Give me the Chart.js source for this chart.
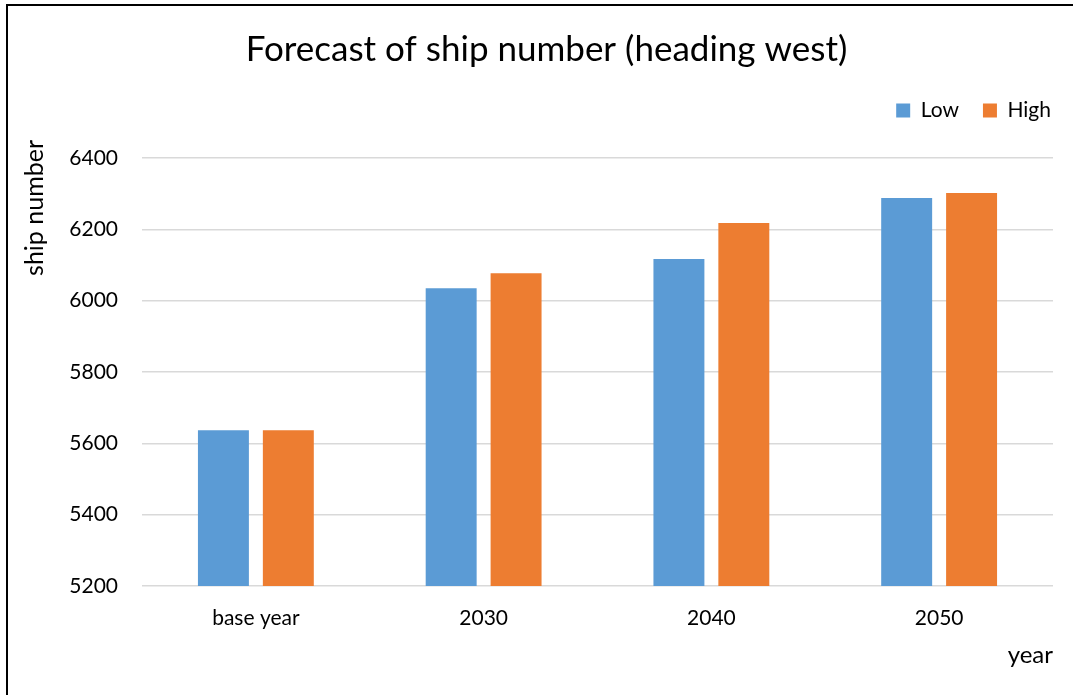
<!DOCTYPE html>
<html>
<head>
<meta charset="utf-8">
<title>Forecast of ship number</title>
<script src="https://cdn.jsdelivr.net/npm/chart.js@4"></script>
<style>
  html, body { margin: 0; padding: 0; background: #fff; }
  #wrap { position: relative; width: 1073px; height: 695px; overflow: hidden; }
  #frame {
    position: absolute; left: 6px; top: 4px; right: -10px; bottom: -10px;
    border-top: 2px solid #000; border-left: 2px solid #000;
    pointer-events: none;
  }
</style>
</head>
<body>
<div id="wrap">
  <canvas id="shipchart" width="1073" height="695"></canvas>
  <div id="frame"></div>
</div>
<script>
// Ship number forecast, westbound
const years = ['base year', '2030', '2040', '2050'];
const lowCase = [5637, 6035, 6117, 6288];
const highCase = [5637, 6077, 6218, 6302];
const yTicks = [5200, 5400, 5600, 5800, 6000, 6200, 6400];
const yTitle = 'ship number';

const FONT = 'Lato, Carlito, "Open Sans", sans-serif';

// legend: more room underneath, pushed to the right edge of the plot;
// title nudged right a little
const headerTweak = {
  id: 'headerTweak',
  beforeInit(chart) {
    const fit = chart.legend.fit;
    chart.legend.fit = function () {
      fit.bind(chart.legend)();
      this.height += 27;
    };
  },
  afterLayout(chart) {
    chart.legend.left += 22;
    chart.legend.right += 22;
    chart.titleBlock.left += 10;
    chart.titleBlock.right += 10;
  }
};

// y axis title sits a bit above the top of the value axis
const sideTitle = {
  id: 'sideTitle',
  afterDraw(chart) {
    const c = chart.ctx;
    c.save();
    c.translate(35, 140);
    c.rotate(-Math.PI / 2);
    c.textAlign = 'right';
    c.textBaseline = 'middle';
    c.fillStyle = '#000';
    c.font = '25px ' + FONT;
    c.fillText(yTitle, 0, 0);
    c.restore();
  }
};

const ctx = document.getElementById('shipchart');
new Chart(ctx, {
  type: 'bar',
  data: {
    labels: years,
    datasets: [
      {
        label: 'Low',
        data: lowCase,
        backgroundColor: '#5B9BD5',
        categoryPercentage: 0.57,
        barPercentage: 0.785
      },
      {
        label: 'High',
        data: highCase,
        backgroundColor: '#ED7D31',
        categoryPercentage: 0.57,
        barPercentage: 0.785
      }
    ]
  },
  options: {
    responsive: false,
    animation: false,
    layout: { padding: { left: 20, right: 20, top: 10, bottom: 20 } },
    plugins: {
      title: {
        display: true,
        text: 'Forecast of ship number (heading west)',
        color: '#000',
        font: { family: FONT, size: 35, weight: 'normal' },
        padding: { top: 19, bottom: 5 }
      },
      legend: {
        position: 'top',
        align: 'end',
        labels: {
          color: '#000',
          font: { family: FONT, size: 21 },
          boxWidth: 14,
          boxHeight: 14,
          padding: 24
        }
      },
      tooltip: { enabled: false }
    },
    scales: {
      x: {
        afterFit(scale) { scale.height = 89; },
        grid: { display: false },
        border: { display: false },
        ticks: {
          color: '#000',
          font: { family: FONT, size: 21 },
          padding: 12
        },
        title: {
          display: true,
          text: 'year',
          align: 'end',
          color: '#000',
          font: { family: FONT, size: 24 },
          padding: { top: 0, bottom: 5 }
        }
      },
      y: {
        min: 5200,
        max: 6400,
        afterFit(scale) { scale.width = 122; },
        afterBuildTicks(scale) {
          scale.ticks = yTicks.map(v => ({ value: v }));
        },
        grid: {
          color: '#d9d9d9',
          lineWidth: 1.5,
          drawTicks: false
        },
        border: { display: false },
        ticks: {
          color: '#000',
          font: { family: FONT, size: 21 },
          padding: 24,
          callback: v => String(v)
        }
      }
    }
  },
  plugins: [headerTweak, sideTitle]
});
</script>
</body>
</html>
